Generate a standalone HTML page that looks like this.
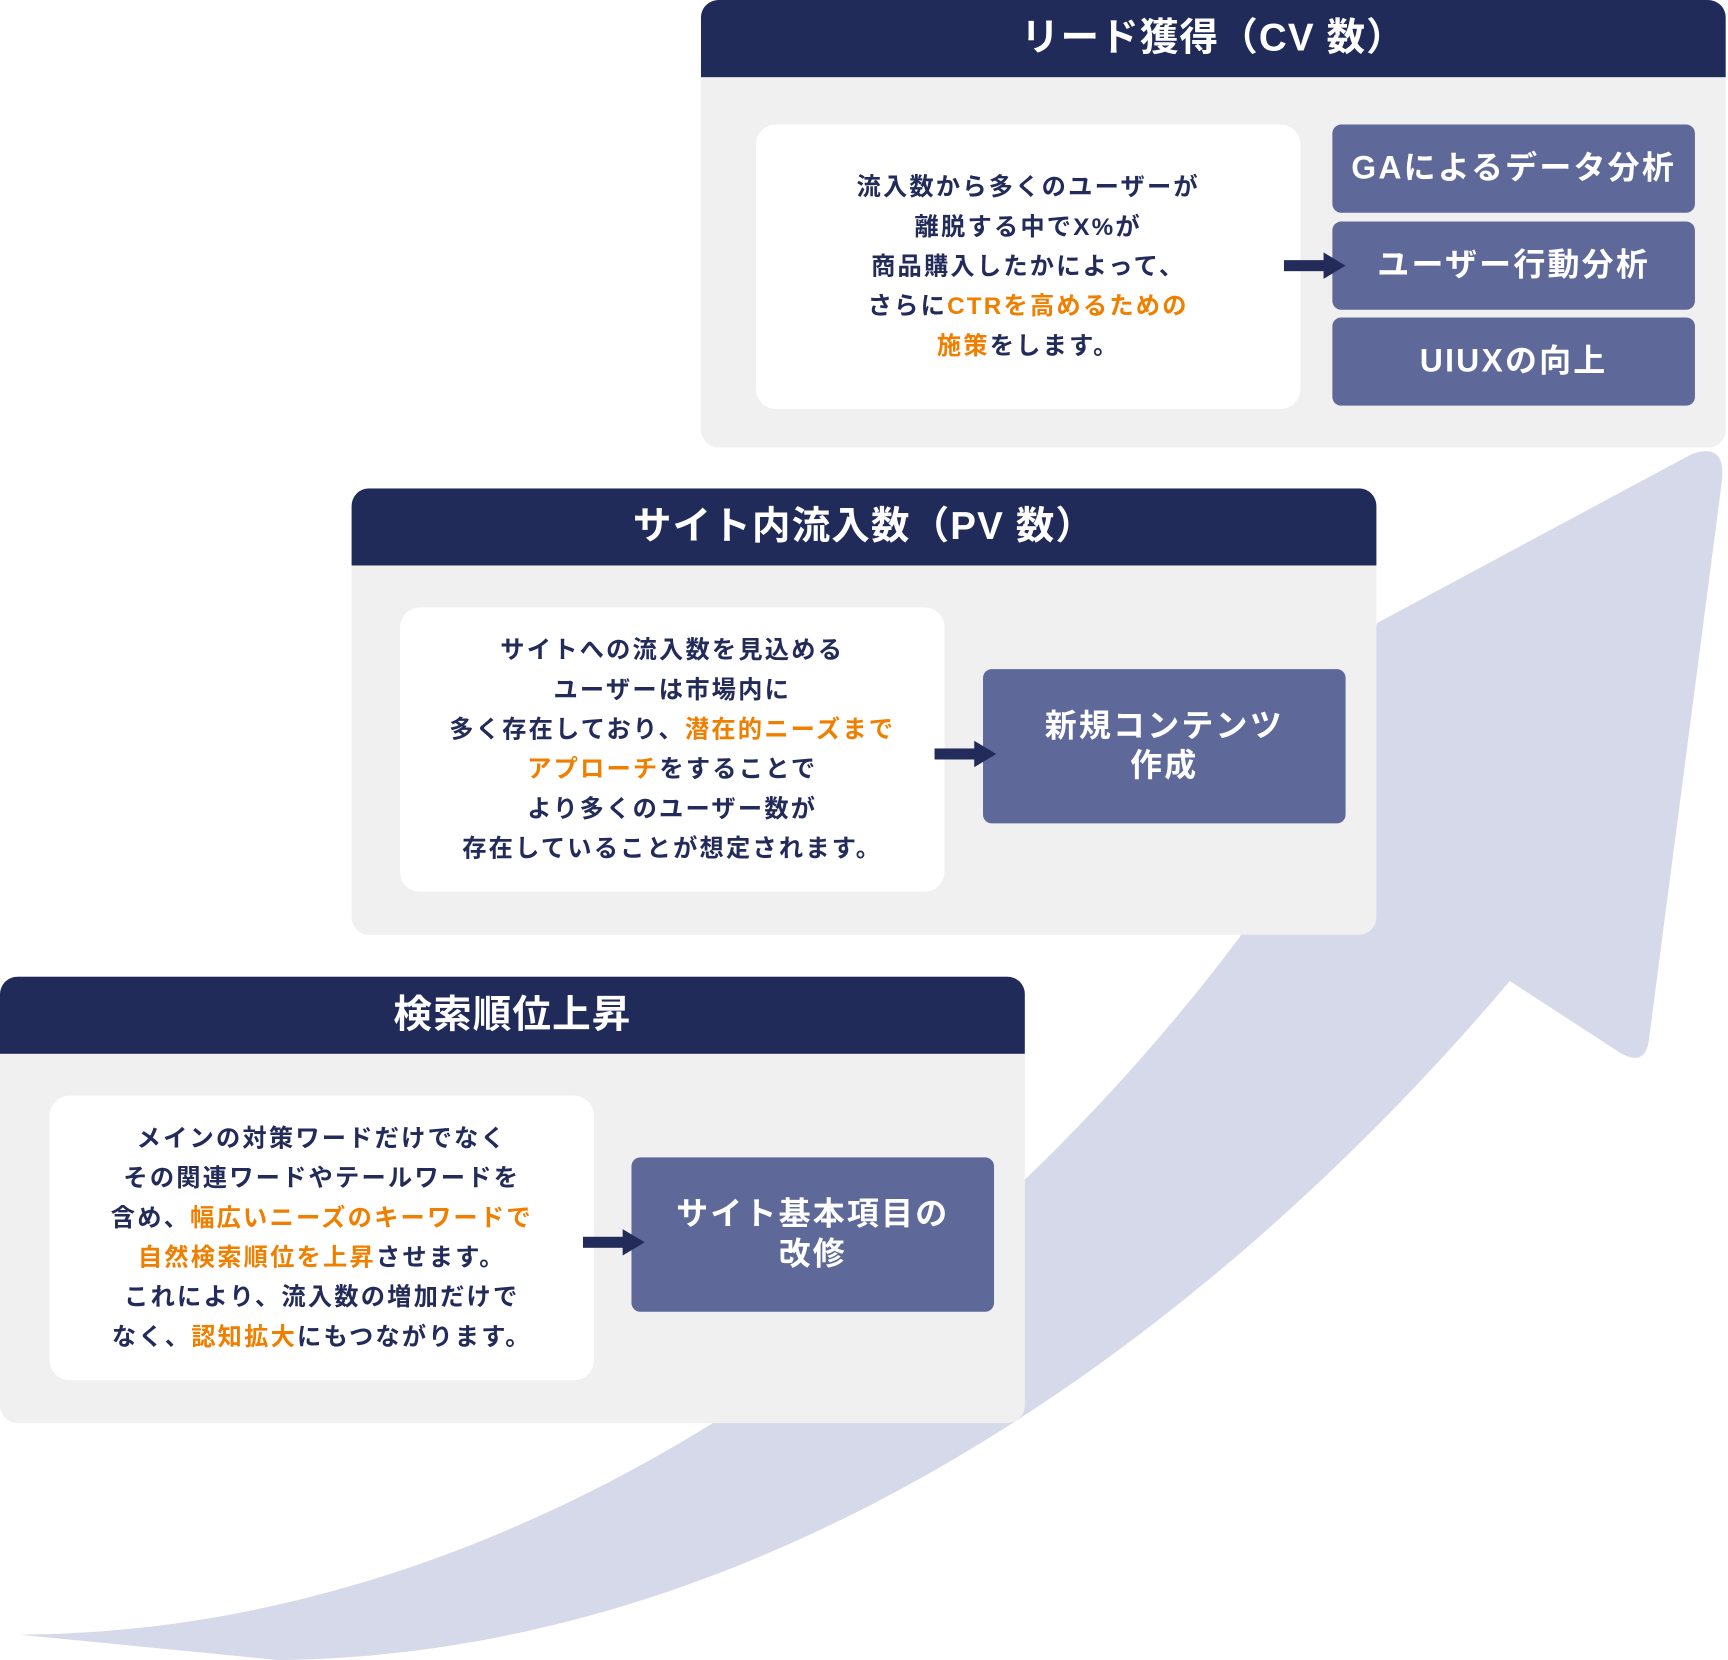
<!DOCTYPE html>
<html><head><meta charset="utf-8"><style>
html,body{margin:0;padding:0;background:#fff;}
body{width:1728px;height:1660px;overflow:hidden;position:relative;}
#w{position:absolute;left:0;top:0;width:1568px;height:1506px;transform:scale(1.10204,1.1023);transform-origin:0 0;font-family:"Liberation Sans","Noto Sans CJK JP",sans-serif;font-weight:700;}
.panel{position:absolute;background:#f0f0f0;border-radius:16px;overflow:hidden;}
.hd{position:absolute;left:0;top:0;right:0;height:70px;background:#212b5a;color:#fff;font-size:35px;text-align:center;line-height:70px;letter-spacing:1px;}
.wb{position:absolute;background:#fff;border-radius:18px;color:#222b5a;font-size:22px;letter-spacing:2px;line-height:36px;text-align:center;display:flex;align-items:center;justify-content:center;}
.o{color:#f07f00;}
.pb{position:absolute;background:#5e6899;border-radius:8px;color:#fff;font-size:29px;letter-spacing:2px;line-height:36px;text-align:center;display:flex;align-items:center;justify-content:center;}
.ar{position:absolute;width:56px;height:24px;}
</style></head><body><div id="w">
<svg style="position:absolute;left:0;top:0" width="1568" height="1506">
<path d="M18,1483 C500,1480 900,1150 1125,850 L1250,565 L1535,412 Q1568,400 1562,440 L1496,945 Q1492,968 1470,955 L1370,890 C1150,1150 750,1500 253,1506 Z" fill="#d6d9e9"/>
</svg>

<div class="panel" style="left:636px;top:0;width:930px;height:406px;">
 <div class="hd">リード獲得（CV 数）</div>
 <div class="wb" style="left:50px;top:113px;width:494px;height:258px;"><div>流入数から多くのユーザーが<br>離脱する中でX%が<br>商品購入したかによって、<br>さらに<span class="o">CTRを高めるための</span><br><span class="o">施策</span>をします。</div></div>
 <div class="pb" style="left:573px;top:113px;width:329px;height:80px;">GAによるデータ分析</div>
 <div class="pb" style="left:573px;top:201px;width:329px;height:80px;">ユーザー行動分析</div>
 <div class="pb" style="left:573px;top:288px;width:329px;height:80px;">UIUXの向上</div>
</div>
<svg class="ar" style="left:1165px;top:229px" viewBox="0 0 56 24"><rect x="0" y="7" width="38" height="10" fill="#222b5a"/><path d="M36,0 L56,12 L36,24 Z" fill="#222b5a"/></svg>

<div class="panel" style="left:319px;top:443px;width:930px;height:405px;">
 <div class="hd">サイト内流入数（PV 数）</div>
 <div class="wb" style="left:44px;top:108px;width:494px;height:258px;"><div>サイトへの流入数を見込める<br>ユーザーは市場内に<br>多く存在しており、<span class="o">潜在的ニーズまで</span><br><span class="o">アプローチ</span>をすることで<br>より多くのユーザー数が<br>存在していることが想定されます。</div></div>
 <div class="pb" style="left:573px;top:164px;width:329px;height:140px;"><div>新規コンテンツ<br>作成</div></div>
</div>
<svg class="ar" style="left:848px;top:672px" viewBox="0 0 56 24"><rect x="0" y="7" width="38" height="10" fill="#222b5a"/><path d="M36,0 L56,12 L36,24 Z" fill="#222b5a"/></svg>

<div class="panel" style="left:0;top:886px;width:930px;height:405px;">
 <div class="hd">検索順位上昇</div>
 <div class="wb" style="left:45px;top:108px;width:494px;height:258px;"><div>メインの対策ワードだけでなく<br>その関連ワードやテールワードを<br>含め、<span class="o">幅広いニーズのキーワードで</span><br><span class="o">自然検索順位を上昇</span>させます。<br>これにより、流入数の増加だけで<br>なく、<span class="o">認知拡大</span>にもつながります。</div></div>
 <div class="pb" style="left:573px;top:164px;width:329px;height:140px;"><div>サイト基本項目の<br>改修</div></div>
</div>
<svg class="ar" style="left:529px;top:1115px" viewBox="0 0 56 24"><rect x="0" y="7" width="38" height="10" fill="#222b5a"/><path d="M36,0 L56,12 L36,24 Z" fill="#222b5a"/></svg>
</div></body></html>
